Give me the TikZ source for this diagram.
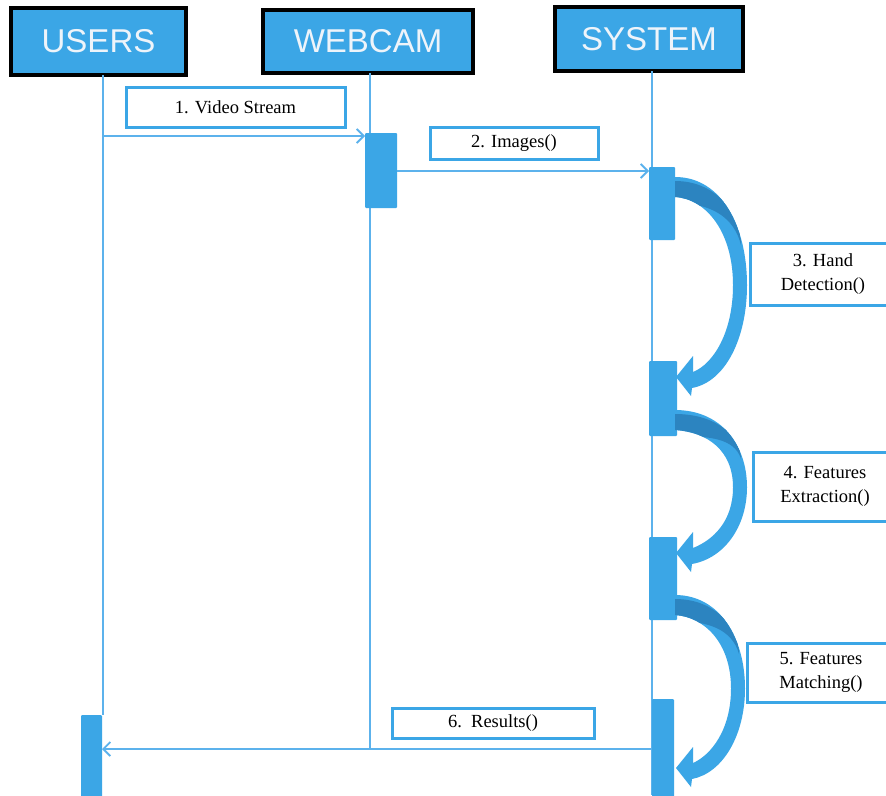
\documentclass[tikz,border=0pt]{standalone}
\usepackage{fontspec}
\setmainfont{Liberation Serif}
\newfontfamily\hdrfont{Liberation Sans}
\usetikzlibrary{arrows.meta}
\definecolor{bblue}{RGB}{59,166,230}
\definecolor{dblue}{RGB}{44,132,192}
\definecolor{lblue}{RGB}{92,178,236}
\newcommand\SApath{(675,\SAt) .. controls (\SAXa,\SAt) and (\SAX,\SAq) .. (\SAX,\SAm)
  .. controls (\SAX,\SAr) and (\SAXb,\SAbp) .. (692,\SAbo) -- (691,\SAbl) -- (676,\SAb)
  -- (693,\SAbu) -- (693,\SAbi) .. controls (\SAXc,\SAbc) and (\SAXi,\SAs) .. (\SAXi,\SAm)
  .. controls (\SAXi,\SAu) and (\SAXe,\SAtp) .. (675,\SAtq) -- cycle}
\newcommand\selfarrow[3]{%
  \pgfmathsetmacro\SAt{#1}\pgfmathsetmacro\SAb{#2}\pgfmathsetmacro\SAX{#3}%
  \pgfmathsetmacro\SAh{\SAb-\SAt}%
  \pgfmathsetmacro\SAm{\SAt+0.54*\SAh}\pgfmathsetmacro\SAq{\SAt+0.25*\SAh}%
  \pgfmathsetmacro\SAr{\SAt+0.81*\SAh}\pgfmathsetmacro\SAs{\SAt+0.78*\SAh}%
  \pgfmathsetmacro\SAu{\SAt+0.28*\SAh}\pgfmathsetmacro\SAv{\SAt+0.34*\SAh}%
  \pgfmathsetmacro\SAw{\SAt+0.2*\SAh}%
  \pgfmathsetmacro\SAtp{\SAt+22}\pgfmathsetmacro\SAtq{\SAt+20}%
  \pgfmathsetmacro\SAtf{\SAt+4}\pgfmathsetmacro\SAtg{\SAt+26}%
  \pgfmathsetmacro\SAXa{\SAX-25}\pgfmathsetmacro\SAXb{\SAX-22}%
  \pgfmathsetmacro\SAXc{\SAX-34}\pgfmathsetmacro\SAXi{\SAX-14}%
  \pgfmathsetmacro\SAXe{\SAX-40}\pgfmathsetmacro\SAXf{\SAX-28}\pgfmathsetmacro\SAXg{\SAX-6}%
  \pgfmathsetmacro\SAXh{\SAX-13}\pgfmathsetmacro\SAXj{\SAX-36}%
  \pgfmathsetmacro\SAbp{\SAb+5}\pgfmathsetmacro\SAbo{\SAb+11}\pgfmathsetmacro\SAbl{\SAb+19}%
  \pgfmathsetmacro\SAbu{\SAb-21}\pgfmathsetmacro\SAbi{\SAb-5}\pgfmathsetmacro\SAbc{\SAb-13}%
  \fill[bblue] \SApath;
  \begin{scope}
    \clip \SApath;
    \fill[dblue] (675,\SAtf) .. controls (\SAXf,\SAtf) and (\SAXg,\SAw) .. (\SAXg,\SAv)
      .. controls (\SAXh,\SAw) and (\SAXj,\SAtg) .. (675,\SAtg) -- cycle;
  \end{scope}
}
\begin{document}
\begin{tikzpicture}[x=1pt,y=-1pt,
  hdr/.style={draw=black, line width=3.5pt, fill=bblue, text={rgb,255:red,238;green,244;blue,250},
    font=\hdrfont\fontsize{33}{33}\selectfont, inner sep=0pt},
  msgbox/.style={draw=bblue, line width=3pt, fill=white, inner sep=0pt,
    font=\fontsize{18.5}{24}\selectfont, align=center},
  act/.style={fill=bblue, inner sep=0pt, outer sep=0pt, rounded corners=1pt},
  life/.style={draw=lblue, line width=1.5pt},
  msg/.style={draw=lblue, line width=1.8pt,
    -{Straight Barb[length=7pt,width=14pt,line width=1.8pt]}}]
\clip (0,0) rectangle (886,795);
\fill[white] (0,0) rectangle (886,795);

% headers
\node[hdr, minimum width=175pt, minimum height=67pt] (users) at (98.5,41.5) {USERS};
\node[hdr, minimum width=210pt, minimum height=63pt] (webcam) at (368,41.5) {WEBCAM};
\node[hdr, minimum width=188pt, minimum height=64pt] (system) at (649,39) {SYSTEM};

% lifeline coordinates
\coordinate (uTop) at (103,75);
\coordinate (uBot) at (103,715);
\coordinate (wTop) at (370,73);
\coordinate (wBot) at (370,749);
\coordinate (sTop) at (652,71);
\coordinate (sBot) at (652,795);
\draw[life] (uTop) -- (uBot);
\draw[life] (wTop) -- (wBot);
\draw[life] (sTop) -- (sBot);

% activations
\node[act, minimum width=21pt, minimum height=85pt] (uact) at (91.5,757.5) {};
\node[act, minimum width=32pt, minimum height=75pt] (wact) at (381,170.5) {};
\node[act, minimum width=26pt, minimum height=73pt] (sact1) at (662,203.5) {};
\node[act, minimum width=28pt, minimum height=75pt] (sact2) at (663,398.5) {};
\node[act, minimum width=28pt, minimum height=83pt] (sact3) at (663,578.5) {};
\node[act, minimum width=22pt, minimum height=101pt] (sact4) at (663,749.5) {};

% self calls (block arrows)
\selfarrow{177}{377}{747}
\selfarrow{410}{553}{747}
\selfarrow{595}{768}{745}

% messages
\coordinate (m1s) at (103,136);
\draw[msg] (m1s) -- (wact.west |- m1s);
\coordinate (m2s) at (397,171);
\draw[msg] (m2s) -- (sact1.west |- m2s);
\coordinate (m6s) at (652,749);
\draw[msg] (m6s) -- (uact.east |- m6s);

% labels
\node[msgbox, minimum width=219pt, minimum height=40pt] (l1) at (235.5,107) {1. Video Stream};
\node[msgbox, minimum width=168pt, minimum height=32pt] (l2) at (514,143) {2. Images()};
\node[msgbox, minimum width=146pt, minimum height=62pt] (l3) at (823,274) {3. Hand\\Detection()};
\node[msgbox, minimum width=144pt, minimum height=69pt] (l4) at (825,486.5) {4. Features\\Extraction()};
\node[msgbox, minimum width=148pt, minimum height=59pt] (l5) at (821,672.5) {5. Features\\Matching()};
\node[msgbox, minimum width=202pt, minimum height=30pt] (l6) at (493,723) {6.\ \ Results()};
\end{tikzpicture}
\end{document}
